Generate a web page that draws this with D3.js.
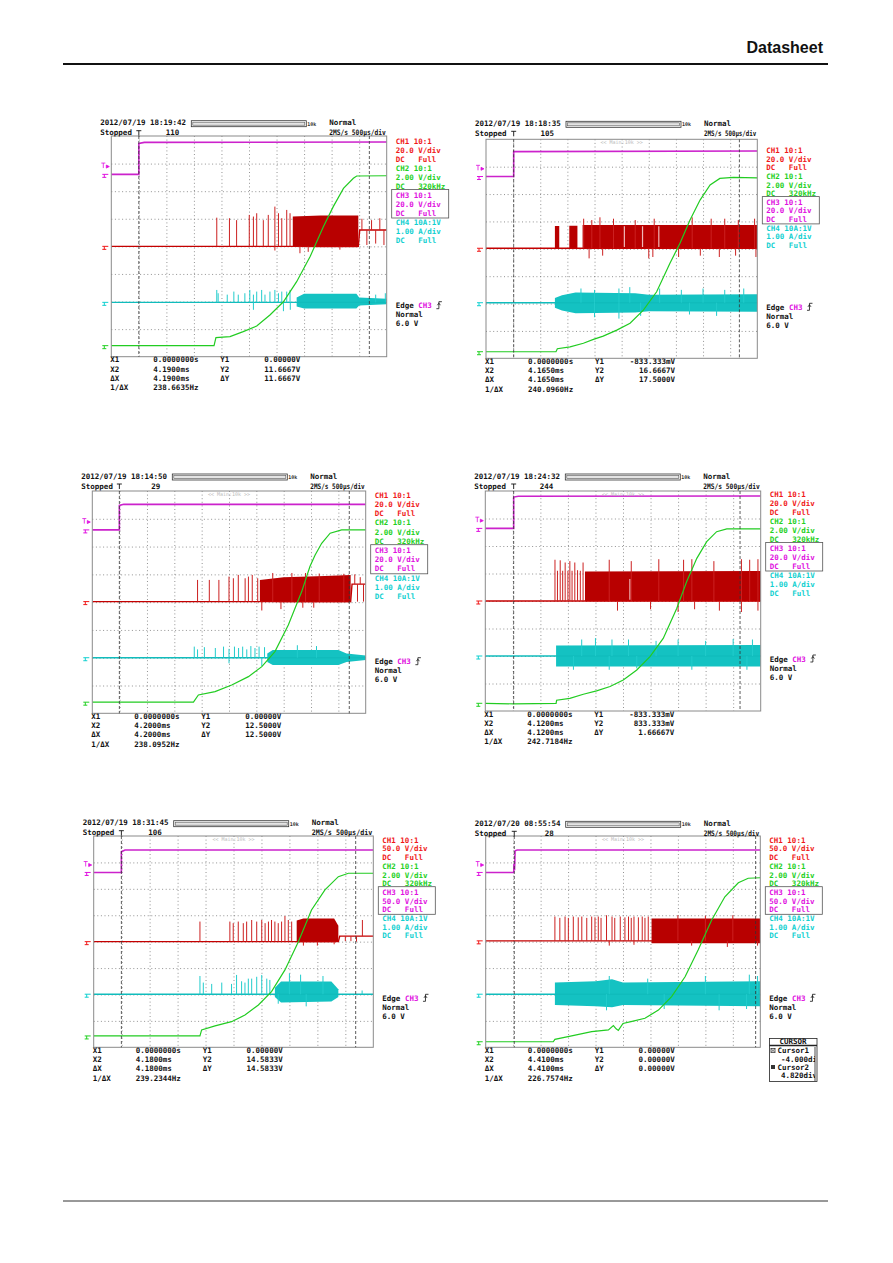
<!DOCTYPE html>
<html>
<head>
<meta charset="utf-8">
<script src="https://cdn.jsdelivr.net/npm/d3@7"></script>
<style>
body { margin:0; background:#fff; }
text { font-family:"DejaVu Sans Mono", monospace; font-size:7.5px; font-weight:bold; white-space:pre; }
</style>
</head>
<body>
<svg id="svg" width="893" height="1263"></svg>
<script>
// ---- data (time in divisions 0..10, level in divisions from top 0..8)
var stamps = ["2012/07/19 18:19:42","2012/07/19 18:18:35","2012/07/19 18:14:50","2012/07/19 18:24:32","2012/07/19 18:31:45","2012/07/20 08:55:54"];
var counts = ["110","105","29","244","106","28"];
var mainTag = [false,true,true,true,true,true];
var ch13Scale = ["20.0 V/div","20.0 V/div","20.0 V/div","20.0 V/div","50.0 V/div","50.0 V/div"];
var x2Read = ["4.1900ms","4.1650ms","4.2000ms","4.1200ms","4.1800ms","4.4100ms"];
var y1Read = ["0.00000V","-833.333mV","0.00000V","-833.333mV","0.00000V","0.00000V"];
var y2Read = ["11.6667V","16.6667V","12.5000V","833.333mV","14.5833V","0.00000V"];
var dyRead = ["11.6667V","17.5000V","12.5000V","1.66667V","14.5833V","0.00000V"];
var invRead = ["238.6635Hz","240.0960Hz","238.0952Hz","242.7184Hz","239.2344Hz","226.7574Hz"];
var cursorX1 = [1.00,1.02,0.99,1.03,0.99,1.04];
var cursorX2 = [9.37,9.34,9.40,9.25,9.37,9.83];
var cursorMenu = ["Cursor1","-4.000div","Cursor2","4.820div"];

var magentas = [
  [[0,1.39],[1.0,1.39],[1.0,0.27],[1.2,0.23],[10,0.22]],
  [[0,1.36],[1.02,1.36],[1.02,0.45],[10,0.43]],
  [[0,1.40],[0.99,1.40],[0.99,0.52],[1.15,0.48],[10,0.48]],
  [[0,1.36],[1.03,1.36],[1.03,0.22],[1.2,0.19],[10,0.18]],
  [[0,1.38],[0.99,1.38],[0.99,0.60],[1.12,0.53],[10,0.53]],
  [[0,1.38],[1.02,1.38],[1.03,1.05],[1.05,1.30],[1.07,0.56],[1.15,0.53],[10,0.53]]
];
var greens = [
  [[0,7.60],[3.73,7.60],[3.80,7.31],[4.31,7.27],[4.79,7.09],[5.28,6.89],[5.76,6.49],[6.25,6.01],[6.73,5.28],[7.22,4.37],[7.70,3.29],[8.06,2.56],[8.43,1.90],[8.79,1.53],[8.91,1.45],[10,1.44]],
  [[0,7.76],[2.58,7.76],[2.63,7.65],[3.10,7.58],[3.59,7.45],[3.96,7.31],[4.32,7.19],[4.82,6.97],[5.31,6.72],[5.80,6.24],[6.29,5.57],[6.78,4.53],[7.15,3.80],[7.52,2.95],[7.89,2.22],[8.26,1.67],[8.62,1.43],[9.12,1.39],[10,1.41]],
  [[0,7.60],[3.70,7.60],[3.88,7.34],[4.49,7.22],[5.10,6.98],[5.71,6.68],[6.20,6.32],[6.68,5.78],[7.17,4.82],[7.66,3.62],[7.96,2.72],[8.15,2.30],[8.39,1.88],[8.70,1.52],[9.12,1.40],[10,1.40]],
  [[0,7.72],[1.03,7.74],[2.57,7.72],[2.59,7.61],[3.07,7.54],[3.56,7.39],[4.04,7.27],[4.53,7.11],[5.01,6.87],[5.50,6.51],[5.98,6.02],[6.46,5.36],[6.95,4.27],[7.31,3.30],[7.68,2.45],[8.04,1.84],[8.40,1.48],[8.77,1.38],[10,1.38]],
  [[0,7.57],[3.80,7.57],[3.86,7.34],[4.34,7.19],[4.93,7.03],[5.41,6.78],[5.89,6.40],[6.36,5.89],[6.84,5.07],[7.32,4.00],[7.79,2.80],[8.27,2.04],[8.75,1.54],[9.11,1.41],[10,1.41]],
  [[0,7.79],[2.46,7.79],[2.52,7.70],[3.13,7.57],[3.86,7.41],[4.47,7.34],[4.65,7.18],[4.75,7.30],[4.83,7.36],[5.00,7.10],[5.29,7.03],[5.80,6.90],[6.29,6.59],[6.77,6.08],[7.26,5.33],[7.74,4.31],[8.23,3.18],[8.71,2.30],[9.20,1.77],[9.56,1.60],[10,1.58]]
];
var redLines = [
  [[0,4.0],[8.97,4.0],[9.02,3.41],[10,3.41]],
  [[0,3.98],[10,3.98]],
  [[0,3.98],[9.45,3.98],[9.5,3.35],[10,3.35]],
  [[0,4.0],[10,4.0]],
  [[0,4.0],[8.75,4.0],[8.8,3.79],[10,3.79]],
  [[0,3.97],[10,3.97]]
];
var redBands = [
  [[[6.59,2.92,4.02],[7.6,2.88,4.03],[8.97,2.88,4.03]]],
  [[[2.54,3.17,3.98],[2.70,3.17,3.98]],[[3.07,3.16,3.98],[3.37,3.16,3.98]],[[3.56,3.13,3.98],[10,3.13,3.98]]],
  [[[6.13,3.20,3.99],[7.0,3.10,4.0],[8.5,3.06,4.0],[9.45,3.02,4.0]]],
  [[[3.62,2.93,4.01],[10,2.91,4.01]]],
  [[[7.26,3.20,4.02],[7.5,3.12,4.02],[8.6,3.12,4.02],[8.75,3.40,4.0]]],
  [[[6.04,3.12,4.06],[10,3.12,4.06]]]
];
var redGaps = [[],[5.10,5.77,6.37],[],[5.25],[],[]];
var redSpikes = [
  [[3.83,2.96],[4.29,2.98],[4.55,3.05],[5.01,2.86],[5.16,2.92],[5.28,2.80],[5.52,3.05],[5.70,2.86],[5.94,2.56],[6.07,2.80],[6.19,2.98],[6.37,2.68],[6.49,2.80],[5.94,4.15],[6.85,4.25],[7.15,4.20],[8.30,4.12],[9.10,3.00,3.41],[9.28,3.95,3.41],[9.45,3.05,3.41],[9.60,3.90,3.41],[9.75,2.98,3.41],[9.90,3.95,3.41]],
  [[3.60,2.90],[3.90,2.95],[4.20,2.85],[4.70,2.90],[5.50,2.95],[6.20,2.90],[7.60,2.85],[8.30,2.90],[8.80,2.90],[9.30,2.95],[9.90,2.90],[3.80,4.35],[4.30,4.25],[6.00,4.35],[6.15,4.30],[7.10,4.30],[7.90,4.25],[8.60,4.30],[9.20,4.25],[9.95,4.30]],
  [[3.85,3.20],[4.28,3.20],[4.63,3.20],[5.00,3.08],[5.16,3.14],[5.34,3.02],[5.59,3.14],[5.71,3.08],[5.85,3.02],[6.05,3.14],[6.60,2.95],[7.30,2.95],[7.80,2.95],[8.30,2.97],[9.20,2.98],[6.20,4.30],[6.90,4.25],[7.70,4.20],[8.10,4.20],[9.60,3.00,3.35],[9.70,3.98,3.35],[9.80,3.10,3.35],[9.92,3.98,3.35]],
  [[2.53,2.50],[2.62,2.90],[2.72,2.52],[2.81,2.90],[2.90,2.60],[3.00,2.90],[3.07,2.55],[3.15,2.90],[3.25,2.60],[3.35,2.88],[3.45,2.90],[3.55,2.60],[4.50,2.50],[5.30,2.55],[6.30,2.48],[7.20,2.50],[7.50,2.48],[8.30,2.55],[9.30,2.48],[9.60,2.50],[9.90,2.48],[4.80,4.35],[6.00,4.30],[7.00,4.40],[7.60,4.30],[8.50,4.35],[9.30,4.40],[9.90,4.35]],
  [[3.80,3.24],[4.87,3.24],[4.99,3.30],[5.17,3.24],[5.35,3.30],[5.47,3.24],[5.65,3.18],[5.83,3.24],[6.01,3.18],[6.13,3.30],[6.25,3.24],[6.36,3.18],[6.48,3.24],[6.60,3.30],[6.72,3.24],[6.84,3.03],[6.96,3.18],[7.08,3.24],[7.50,4.15],[8.00,4.15],[8.60,4.10],[9.00,3.98,3.79],[9.20,3.98,3.79],[9.40,4.00,3.79],[9.61,3.18,3.79]],
  [[2.52,3.05],[2.70,3.10],[2.89,3.05],[3.01,3.10],[3.19,3.05],[3.37,3.08],[3.50,3.05],[3.68,3.10],[3.86,3.05],[3.98,3.08],[4.10,3.05],[4.20,3.10],[4.40,3.00],[4.60,3.05],[4.70,3.10],[4.90,3.05],[5.07,3.08],[5.20,3.05],[5.30,3.10],[5.40,3.05],[5.56,3.08],[5.70,3.05],[5.80,3.10],[5.92,3.05],[7.00,3.00],[8.00,3.02],[9.00,3.00],[4.50,4.15],[5.40,4.12],[7.50,4.15],[8.80,4.20],[9.90,4.15]]
];
var cyanBase = [6.03,5.97,6.00,6.00,5.99,5.99];
var cyanBands = [
  [[[6.73,5.85,6.18],[7.0,5.72,6.25],[8.9,5.72,6.25],[9.0,5.85,6.14],[10,5.90,6.10]]],
  [[[2.54,5.80,6.15],[2.8,5.70,6.25],[3.3,5.60,6.35],[5.5,5.62,6.33],[6.0,5.68,6.28],[10,5.66,6.30]]],
  [[[6.40,5.85,6.15],[6.60,5.72,6.26],[9.0,5.72,6.26],[9.3,5.85,6.15],[10,5.92,6.08]]],
  [[[2.57,5.62,6.38],[10,5.60,6.38]]],
  [[[6.48,5.75,6.10],[6.70,5.51,6.30],[8.50,5.51,6.27],[8.75,5.80,6.10]]],
  [[[2.52,5.55,6.40],[4.0,5.50,6.45],[4.6,5.42,6.48],[5.0,5.55,6.40],[10,5.50,6.45]]]
];
var cyanSpikes = [
  [[3.83,5.58],[3.88,5.70],[4.21,5.75],[4.45,5.64],[4.61,5.75],[4.85,5.70],[5.03,5.58],[5.16,5.75],[5.28,5.64],[5.46,5.58],[5.58,5.75],[5.76,5.64],[5.94,5.58],[6.07,5.70],[6.19,5.64],[6.37,5.64],[6.49,5.58],[5.16,6.30],[6.25,6.35],[6.50,6.30],[9.60,5.75],[9.95,5.70]],
  [[3.50,5.45],[4.00,5.50],[4.90,5.45],[5.30,5.40],[6.40,5.45],[7.20,5.50],[8.00,5.45],[8.80,5.50],[9.50,5.45],[4.00,6.50],[4.90,6.55],[5.70,6.45],[7.50,6.40],[8.50,6.45]],
  [[3.73,5.60],[3.85,5.70],[4.10,5.62],[4.50,5.65],[4.80,5.60],[5.00,5.68],[5.20,5.60],[5.35,5.65],[5.50,5.60],[5.65,5.70],[5.80,5.58],[5.95,5.65],[6.10,5.60],[6.30,5.62],[5.00,6.20],[6.20,6.30],[7.50,5.55],[8.20,5.58]],
  [[3.50,5.40],[4.00,5.35],[4.60,5.40],[5.20,5.40],[6.20,5.45],[7.00,5.40],[8.00,5.45],[9.00,5.38],[9.70,5.40],[3.20,6.50],[4.50,6.50],[5.50,6.45],[7.50,6.50],[9.50,6.50]],
  [[3.80,5.30],[3.92,5.55],[4.22,5.60],[4.58,5.55],[4.93,5.60],[5.11,5.26],[5.29,5.50],[5.41,5.55],[5.53,5.40],[5.65,5.40],[5.83,5.33],[6.01,5.26],[6.19,5.40],[6.30,5.45],[7.00,5.20],[7.40,5.25],[8.20,5.30],[6.60,6.35],[7.60,6.45],[9.60,5.85]],
  [[4.50,5.30],[5.90,5.40],[8.00,5.30],[9.60,5.25],[9.90,5.30],[4.40,6.60],[6.50,6.55],[8.50,6.60],[9.50,6.55]]
];

// ---- layout (page pixels)
var boxes = [[111.3,136,275.4,220.7],[486,139.3,271.3,219],[92.3,491,273.4,222.3],[485.3,491,275.4,220],[93.7,836,279.6,211.3],[485.7,836,274.6,211.3]];
var headY = [122.7,123.3,476,476,822.7,823.3];
var labelTop = [141,150.5,495,494,840,840];
var labelStep = [9.0,8.6,9.2,9.0,8.7,8.7];
var edgeTop = [305.7,307.3,661.7,659,998.3,998.3];

var RED = "#f01818", GRN = "#22d022", MAG = "#e010e0", CYN = "#10d0d0";

var svg = d3.select("#svg");
var defs = svg.append("defs");

var txt = function(g, x, y, s, color, anchor) {
    return g.append("text")
	.attr("x", x)
	.attr("y", y + 2.7)
	.attr("fill", color || "#111")
	.attr("text-anchor", anchor || "start")
	.text(s);
}

var drawPanel = function(i) {
    var b = boxes[i], L = b[0], T = b[1], W = b[2], H = b[3], R = L + W, B = T + H;
    var x = d3.scaleLinear().domain([0, 10]).range([L, R]);
    var y = d3.scaleLinear().domain([0, 8]).range([T, B]);
    var g = svg.append("g");
    var line = d3.line().x(function(d) { return x(d[0]); }).y(function(d) { return y(d[1]); });
    var area = d3.area().x(function(d) { return x(d[0]); })
	.y0(function(d) { return y(d[2]); }).y1(function(d) { return y(d[1]); });

    // grid
    g.append("g").attr("transform", "translate(0," + T + ")")
	.call(d3.axisBottom(x).tickValues(d3.range(1, 10)).tickSize(H).tickFormat(""))
	.call(function(a) {
	    a.select(".domain").remove();
	    a.selectAll("line").attr("stroke", "#777").attr("stroke-width", 0.8).attr("stroke-dasharray", "1,2.6");
	});
    g.append("g").attr("transform", "translate(" + L + ",0)")
	.call(d3.axisRight(y).tickValues(d3.range(1, 8)).tickSize(W).tickFormat(""))
	.call(function(a) {
	    a.select(".domain").remove();
	    a.selectAll("line").attr("stroke", "#777").attr("stroke-width", 0.8).attr("stroke-dasharray", "1,2.6");
	});

    defs.append("clipPath").attr("id", "c" + i)
	.append("rect").attr("x", L).attr("y", T).attr("width", W).attr("height", H);
    var tr = g.append("g").attr("clip-path", "url(#c" + i + ")");

    // red channel
    var rbase = redLines[i][0][1];
    tr.selectAll(".rb").data(redBands[i]).enter().append("path")
	.attr("class", "rb").attr("d", area).attr("fill", "#b80000");
    tr.selectAll(".rg").data(redGaps[i]).enter().append("line")
	.attr("class", "rg")
	.attr("x1", function(d) { return x(d); }).attr("x2", function(d) { return x(d); })
	.attr("y1", y(rbase - 0.05)).attr("y2", y(rbase - 0.8))
	.attr("stroke", "#f0b8b8").attr("stroke-width", 1.2);
    tr.append("path").datum(redLines[i]).attr("d", line)
	.attr("fill", "none").attr("stroke", "#c40000").attr("stroke-width", 1.4);
    tr.selectAll(".rs").data(redSpikes[i]).enter().append("line")
	.attr("class", "rs")
	.attr("x1", function(d) { return x(d[0]); }).attr("x2", function(d) { return x(d[0]); })
	.attr("y1", function(d) { return y(d.length > 2 ? d[2] : rbase); })
	.attr("y2", function(d) { return y(d[1]); })
	.attr("stroke", "#cc2020").attr("stroke-width", 1);

    // cyan channel
    tr.selectAll(".cb").data(cyanBands[i]).enter().append("path")
	.attr("class", "cb").attr("d", area).attr("fill", "#14c2c2");
    tr.append("line").attr("x1", x(0)).attr("x2", x(10))
	.attr("y1", y(cyanBase[i])).attr("y2", y(cyanBase[i]))
	.attr("stroke", "#10bcbc").attr("stroke-width", 1.4);
    tr.selectAll(".cs").data(cyanSpikes[i]).enter().append("line")
	.attr("class", "cs")
	.attr("x1", function(d) { return x(d[0]); }).attr("x2", function(d) { return x(d[0]); })
	.attr("y1", y(cyanBase[i])).attr("y2", function(d) { return y(d[1]); })
	.attr("stroke", "#22cccc").attr("stroke-width", 1);

    // magenta and green
    tr.append("path").datum(magentas[i]).attr("d", line)
	.attr("fill", "none").attr("stroke", "#cc22cc").attr("stroke-width", 1.6);
    tr.append("path").datum(greens[i]).attr("d", line)
	.attr("fill", "none").attr("stroke", "#22cc22").attr("stroke-width", 1.2);

    // frame + cursors
    g.append("rect").attr("x", L).attr("y", T).attr("width", W).attr("height", H)
	.attr("fill", "none").attr("stroke", "#8a8a8a").attr("stroke-width", 1);
    g.selectAll(".cur").data([cursorX1[i], cursorX2[i]]).enter().append("line")
	.attr("class", "cur")
	.attr("x1", function(d) { return x(d); }).attr("x2", function(d) { return x(d); })
	.attr("y1", T).attr("y2", B)
	.attr("stroke", "#333").attr("stroke-width", 0.8).attr("stroke-dasharray", "3,2");

    // channel markers on the left
    var marks = [[magentas[i][0][1], MAG], [rbase, RED], [cyanBase[i], CYN], [greens[i][0][1], GRN]];
    g.selectAll(".mk").data(marks).enter().append("path")
	.attr("class", "mk")
	.attr("d", function(d) {
	    var yy = y(d[0]);
	    return "M" + (L - 9) + "," + yy + "h6M" + (L - 7) + "," + yy + "v3M" + (L - 9) + "," + (yy + 3) + "h4";
	})
	.attr("fill", "none").attr("stroke", function(d) { return d[1]; }).attr("stroke-width", 1);
    var ty = y(magentas[i][0][1] - 0.3);
    g.append("path")
	.attr("d", "M" + (L - 10) + "," + (ty - 3) + "h4M" + (L - 8) + "," + (ty - 3) + "v5M" + (L - 5) + "," + (ty - 1) + "l3,1.5l-3,1.5z")
	.attr("fill", MAG).attr("stroke", MAG).attr("stroke-width", 0.8);

    // header
    var hy = headY[i];
    txt(g, L - 11, hy, stamps[i]);
    txt(g, L - 11, hy + 10, "Stopped");
    txt(g, L + 68, hy + 10, counts[i], "#111", "end");
    var tx = x(cursorX1[i]);
    g.append("path").attr("d", "M" + (tx - 2.5) + "," + (hy + 8) + "h5M" + tx + "," + (hy + 8) + "v5")
	.attr("stroke", "#111").attr("stroke-width", 0.9).attr("fill", "none");
    g.append("rect").attr("x", L + 80).attr("y", hy - 2).attr("width", 115).attr("height", 6)
	.attr("fill", "#fff").attr("stroke", "#333").attr("stroke-width", 0.8);
    g.append("rect").attr("x", L + 81.5).attr("y", hy - 0.5).attr("width", 112).attr("height", 3)
	.attr("fill", "#e4e4e4").attr("stroke", "#555").attr("stroke-width", 0.6);
    g.append("text").attr("x", L + 196).attr("y", hy + 3).style("font-size", "5px").attr("fill", "#333").text("10k");
    txt(g, L + 218, hy, "Normal");
    txt(g, L + 218, hy + 10, "2MS/s 500\u00b5s/div").attr("textLength", W - 219).attr("lengthAdjust", "spacingAndGlyphs");
    if (mainTag[i]) {
	g.append("text").attr("x", L + W / 2).attr("y", T + 5).attr("text-anchor", "middle")
	    .style("font-size", "5px").style("font-weight", "normal").attr("fill", "#bbb").text("<< Main:10k >>");
    }

    // channel settings column
    var rows = [["CH1 10:1", RED], [ch13Scale[i], RED], ["DC   Full", RED],
		["CH2 10:1", GRN], ["2.00 V/div", GRN], ["DC   320kHz", GRN],
		["CH3 10:1", MAG], [ch13Scale[i], MAG], ["DC   Full", MAG],
		["CH4 10A:1V", CYN], ["1.00 A/div", CYN], ["DC   Full", CYN]];
    rows.forEach(function(r, k) { txt(g, R + 9, labelTop[i] + k * labelStep[i], r[0], r[1]); });
    g.append("rect").attr("x", R + 5).attr("y", labelTop[i] + 6 * labelStep[i] - 5.5)
	.attr("width", 57).attr("height", 3 * labelStep[i] + 1.5)
	.attr("fill", "none").attr("stroke", "#555").attr("stroke-width", 0.8);

    // trigger info
    var ey = edgeTop[i];
    var et = txt(g, R + 9, ey, "Edge ");
    et.append("tspan").attr("fill", MAG).text("CH3");
    var ex = R + 9 + 4.52 * 9;
    g.append("path").attr("d", "M" + ex + "," + (ey + 3) + "h2.5v-7h3M" + (ex + 1) + "," + (ey - 0.5) + "l1.5,-2l1.5,2")
	.attr("fill", "none").attr("stroke", "#111").attr("stroke-width", 0.8);
    txt(g, R + 9, ey + 9, "Normal");
    txt(g, R + 9, ey + 18, "6.0 V");

    // cursor readouts
    var rd = [["X1", "0.0000000s", "Y1", y1Read[i]], ["X2", x2Read[i], "Y2", y2Read[i]],
	      ["\u0394X", x2Read[i], "\u0394Y", dyRead[i]], ["1/\u0394X", invRead[i], "", ""]];
    rd.forEach(function(r, k) {
	var yy = B + 3 + k * 9.2;
	txt(g, L - 1, yy, r[0]);
	txt(g, L + 42, yy, r[1]);
	txt(g, L + 109, yy, r[2]);
	txt(g, L + 189, yy, r[3], "#111", "end");
    });
}

d3.range(6).forEach(drawPanel);

// cursor menu on last panel
var cm = svg.append("g");
defs.append("clipPath").attr("id", "cmclip").append("rect").attr("x", 769).attr("y", 1037).attr("width", 46).attr("height", 46);
cm.append("rect").attr("x", 769.5).attr("y", 1038.5).attr("width", 47.5).attr("height", 43)
    .attr("fill", "#fff").attr("stroke", "#222").attr("stroke-width", 0.8);
cm.append("line").attr("x1", 769.5).attr("x2", 817).attr("y1", 1045.5).attr("y2", 1045.5).attr("stroke", "#222").attr("stroke-width", 1.4);
txt(cm, 793, 1041.3, "CURSOR", "#111", "middle");
var cmg = cm.append("g").attr("clip-path", "url(#cmclip)");
cursorMenu.forEach(function(s, k) {
    txt(cmg, k % 2 ? 781 : 777.5, 1050.7 + k * 8.2, s);
});
cm.append("rect").attr("x", 771).attr("y", 1048.5).attr("width", 4).attr("height", 4).attr("fill", "none").attr("stroke", "#222").attr("stroke-width", 0.7);
cm.append("path").attr("d", "M771,1048.5l4,4M775,1048.5l-4,4").attr("stroke", "#222").attr("stroke-width", 0.6);
cm.append("rect").attr("x", 771).attr("y", 1065).attr("width", 4).attr("height", 4).attr("fill", "#333");
cm.append("line").attr("x1", 815).attr("x2", 815).attr("y1", 1047).attr("y2", 1081).attr("stroke", "#222").attr("stroke-width", 0.8);

// page header / footer
svg.append("text").attr("x", 823).attr("y", 53).attr("text-anchor", "end")
    .style("font-family", "'Liberation Sans', Arial, sans-serif").style("font-size", "16px").style("font-weight", "bold")
    .attr("fill", "#111").text("Datasheet");
svg.append("line").attr("x1", 63).attr("x2", 828).attr("y1", 64).attr("y2", 64).attr("stroke", "#111").attr("stroke-width", 2);
svg.append("line").attr("x1", 63).attr("x2", 828).attr("y1", 1201).attr("y2", 1201).attr("stroke", "#333").attr("stroke-width", 1);
</script>
</body>
</html>
